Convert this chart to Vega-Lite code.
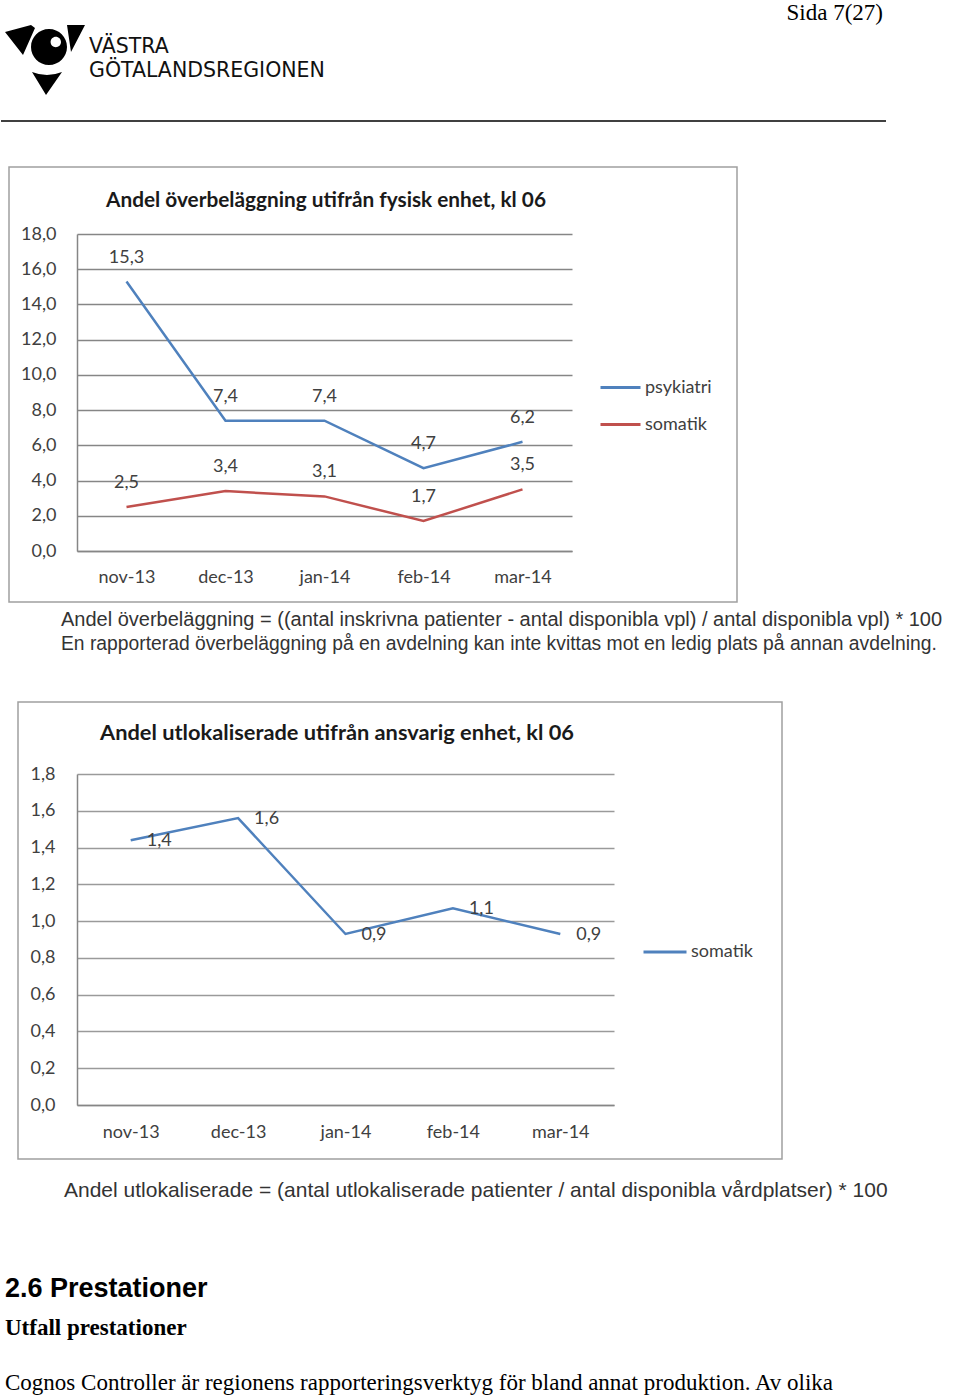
{
  "$schema": "https://vega.github.io/schema/vega-lite/v6.json",
  "background": "white",
  "padding": 0,
  "spacing": 0,
  "resolve": {"scale": {"color": "independent", "x": "independent", "y": "independent"}, "legend": {"color": "independent"}},
  "config": {
    "locale": {"number": {"decimal": ",", "thousands": " ", "grouping": [3], "currency": ["", " kr"]}},
    "view": {"stroke": null},
    "font": "Lato"
  },
  "datasets": {
    "overbel": [
      {"month": "nov-13", "serie": "psykiatri", "value": 15.3},
      {"month": "dec-13", "serie": "psykiatri", "value": 7.4},
      {"month": "jan-14", "serie": "psykiatri", "value": 7.4},
      {"month": "feb-14", "serie": "psykiatri", "value": 4.7},
      {"month": "mar-14", "serie": "psykiatri", "value": 6.2},
      {"month": "nov-13", "serie": "somatik", "value": 2.5},
      {"month": "dec-13", "serie": "somatik", "value": 3.4},
      {"month": "jan-14", "serie": "somatik", "value": 3.1},
      {"month": "feb-14", "serie": "somatik", "value": 1.7},
      {"month": "mar-14", "serie": "somatik", "value": 3.5}
    ],
    "utlok": [
      {"month": "nov-13", "serie": "somatik", "value": 1.44},
      {"month": "dec-13", "serie": "somatik", "value": 1.56},
      {"month": "jan-14", "serie": "somatik", "value": 0.93},
      {"month": "feb-14", "serie": "somatik", "value": 1.07},
      {"month": "mar-14", "serie": "somatik", "value": 0.93}
    ],
    "blank": [{"t": ""}]
  },
  "vconcat": [
    {
      "spacing": 0,
      "hconcat": [
        {
          "width": 88, "height": 120,
          "data": {"name": "blank"},
          "mark": {"type": "point", "shape": "M-1,-0.7 L-0.35,-0.875 L-0.25,-0.8 L-0.55,-0.125 Z M0.55,-0.875 L1,-0.875 L0.65,-0.2 Z M-0.325,0.3 Q0.05,0.45 0.425,0.3 L0.025,0.875 Z M0.55,-0.325 A0.45,0.45 0 1 0 -0.35,-0.325 A0.45,0.45 0 1 0 0.55,-0.325 Z M0.4,-0.45 A0.13,0.13 0 1 1 0.14,-0.45 A0.13,0.13 0 1 1 0.4,-0.45 Z", "size": 6400, "filled": true, "color": "#000000", "opacity": 1, "strokeWidth": 0}
        },
        {
          "width": 560, "height": 120,
          "data": {"name": "blank"},
          "title": {"text": "VÄSTRA", "subtitle": "GÖTALANDSREGIONEN", "anchor": "start", "frame": "group", "offset": -81.3, "font": "DejaVu Sans", "fontSize": 20.5, "fontWeight": "normal", "color": "#111111", "subtitleFont": "DejaVu Sans", "subtitleFontSize": 20.5, "subtitleFontWeight": "normal", "subtitleColor": "#111111", "subtitlePadding": 3.5},
          "mark": "text",
          "encoding": {"text": {"field": "t", "type": "nominal"}}
        },
        {
          "width": 237, "height": 120,
          "data": {"name": "blank"},
          "title": {"text": "Sida 7(27)", "anchor": "end", "frame": "group", "offset": -24.5, "dx": -3, "font": "Liberation Serif", "fontSize": 23, "fontWeight": "normal", "color": "#000000"},
          "mark": "text",
          "encoding": {"text": {"field": "t", "type": "nominal"}}
        }
      ]
    },
    {
      "width": 885, "height": 44.5,
      "data": {"name": "blank"},
      "mark": {"type": "rule", "color": "#000000", "strokeWidth": 1.5},
      "encoding": {"y": {"datum": 1, "type": "quantitative", "scale": {"domain": [0, 1]}, "axis": null}}
    },
    {
      "spacing": 0,
      "hconcat": [
        {
          "width": 6.25, "height": 435,
          "data": {"name": "blank"},
          "mark": "text",
          "encoding": {"text": {"field": "t", "type": "nominal"}}
        },
        {
          "width": 728, "height": 435,
          "view": {"stroke": "#a0a0a0", "strokeWidth": 1.5},
          "data": {"name": "overbel"},
          "title": {"text": "Andel överbeläggning utifrån fysisk enhet, kl 06", "anchor": "middle", "frame": "group", "offset": -44.9, "dx": -47, "font": "Lato", "fontSize": 20.8, "fontWeight": "bold", "color": "#1a1a1a"},
          "encoding": {
            "x": {"field": "month", "type": "ordinal",
              "scale": {"type": "point", "domain": ["nov-13", "dec-13", "jan-14", "feb-14", "mar-14"], "range": [68, 563], "padding": 0.5},
              "axis": {"orient": "bottom", "offset": -51, "title": null, "ticks": false, "labelPadding": 17, "labelAngle": 0, "labelFont": "Lato", "labelFontSize": 18, "labelColor": "#404040", "domainColor": "#868686", "domainWidth": 1.5, "grid": false}},
            "y": {"field": "value", "type": "quantitative",
              "scale": {"domain": [0, 18], "range": [384, 67], "nice": false, "zero": true},
              "axis": {"orient": "left", "offset": -68, "title": null, "values": [0, 2, 4, 6, 8, 10, 12, 14, 16, 18], "format": ".1f", "ticks": false, "labelPadding": 21, "labelFont": "Lato", "labelFontSize": 18, "labelColor": "#404040", "domainColor": "#868686", "domainWidth": 1.5, "grid": true, "gridColor": "#868686", "gridWidth": 1.5}},
            "color": {"field": "serie", "type": "nominal",
              "scale": {"domain": ["psykiatri", "somatik"], "range": ["#4F81BD", "#C0504D"]},
              "legend": {"orient": "none", "legendX": 598, "legendY": 199, "title": null, "labelFont": "Lato", "labelFontSize": 18, "labelColor": "#404040", "symbolType": "stroke", "symbolSize": 1600, "symbolStrokeWidth": 3, "labelOffset": 3, "rowPadding": 6, "padding": 0}}
          },
          "layer": [
            {"mark": {"type": "line", "strokeWidth": 2.5}},
            {"mark": {"type": "text", "dy": -24, "font": "Lato", "fontSize": 18, "baseline": "middle"},
             "encoding": {"text": {"field": "value", "type": "quantitative", "format": ".1f"}, "color": {"value": "#404040"}}}
          ]
        }
      ]
    },
    {
      "width": 960, "height": 98,
      "data": {"name": "blank"},
      "title": {"text": "Andel överbeläggning = ((antal inskrivna patienter - antal disponibla vpl)  /  antal disponibla vpl) * 100", "subtitle": "En rapporterad överbeläggning på en avdelning kan inte kvittas mot en ledig plats på annan avdelning.", "anchor": "start", "frame": "group", "offset": -51.75, "dx": 60, "font": "Liberation Sans", "fontSize": 20, "fontWeight": "normal", "color": "#333333", "subtitleFont": "Liberation Sans", "subtitleFontSize": 19.3, "subtitleFontWeight": "normal", "subtitleColor": "#333333", "subtitlePadding": 5.3},
      "mark": "text",
      "encoding": {"text": {"field": "t", "type": "nominal"}}
    },
    {
      "spacing": 0,
      "hconcat": [
        {
          "width": 15.25, "height": 457,
          "data": {"name": "blank"},
          "mark": "text",
          "encoding": {"text": {"field": "t", "type": "nominal"}}
        },
        {
          "width": 764, "height": 457,
          "view": {"stroke": "#a0a0a0", "strokeWidth": 1.5},
          "data": {"name": "utlok"},
          "title": {"text": "Andel utlokaliserade utifrån ansvarig enhet, kl 06", "anchor": "middle", "frame": "group", "offset": -42.4, "dx": -63, "font": "Lato", "fontSize": 21.8, "fontWeight": "bold", "color": "#1a1a1a"},
          "encoding": {
            "x": {"field": "month", "type": "ordinal",
              "scale": {"type": "point", "domain": ["nov-13", "dec-13", "jan-14", "feb-14", "mar-14"], "range": [59, 596], "padding": 0.5},
              "axis": {"orient": "bottom", "offset": -54, "title": null, "ticks": false, "labelPadding": 18, "labelAngle": 0, "labelFont": "Lato", "labelFontSize": 18, "labelColor": "#404040", "domainColor": "#868686", "domainWidth": 1.5, "grid": false}},
            "y": {"field": "value", "type": "quantitative",
              "scale": {"domain": [0, 1.8], "range": [403, 72], "nice": false, "zero": true},
              "axis": {"orient": "left", "offset": -59, "title": null, "values": [0, 0.2, 0.4, 0.6, 0.8, 1.0, 1.2, 1.4, 1.6, 1.8], "format": ".1f", "ticks": false, "labelPadding": 22, "labelFont": "Lato", "labelFontSize": 18, "labelColor": "#404040", "domainColor": "#868686", "domainWidth": 1.5, "grid": true, "gridColor": "#9a9a9a", "gridWidth": 1.5}},
            "color": {"field": "serie", "type": "nominal",
              "scale": {"domain": ["somatik"], "range": ["#4F81BD"]},
              "legend": {"orient": "none", "legendX": 641, "legendY": 227, "title": null, "labelFont": "Lato", "labelFontSize": 18, "labelColor": "#404040", "symbolType": "stroke", "symbolSize": 1849, "symbolStrokeWidth": 3, "labelOffset": 3, "rowPadding": 0, "padding": 0}}
          },
          "layer": [
            {"mark": {"type": "line", "strokeWidth": 2.5}},
            {"mark": {"type": "text", "dx": 16, "dy": 1, "align": "left", "font": "Lato", "fontSize": 18, "baseline": "middle"},
             "encoding": {"text": {"field": "value", "type": "quantitative", "format": ".1f"}, "color": {"value": "#404040"}}}
          ]
        }
      ]
    },
    {
      "width": 960, "height": 80,
      "data": {"name": "blank"},
      "title": {"text": "Andel utlokaliserade = (antal utlokaliserade patienter /  antal disponibla vårdplatser) * 100", "anchor": "start", "frame": "group", "offset": -40.5, "dx": 63, "font": "Liberation Sans", "fontSize": 21, "fontWeight": "normal", "color": "#333333"},
      "mark": "text",
      "encoding": {"text": {"field": "t", "type": "nominal"}}
    },
    {
      "width": 960, "height": 100,
      "data": {"name": "blank"},
      "title": {"text": "2.6 Prestationer", "subtitle": "Utfall prestationer", "anchor": "start", "frame": "group", "offset": -101, "dx": 4, "font": "Liberation Sans", "fontSize": 27, "fontWeight": "bold", "color": "#000000", "subtitleFont": "Liberation Serif", "subtitleFontSize": 23, "subtitleFontWeight": "bold", "subtitleColor": "#000000", "subtitlePadding": 14},
      "mark": "text",
      "encoding": {"text": {"field": "t", "type": "nominal"}}
    },
    {
      "width": 960, "height": 55,
      "data": {"name": "blank"},
      "title": {"text": "Cognos Controller är regionens rapporteringsverktyg för bland annat produktion. Av olika", "anchor": "start", "frame": "group", "offset": -54.5, "dx": 4, "font": "Liberation Serif", "fontSize": 23, "fontWeight": "normal", "color": "#000000"},
      "mark": "text",
      "encoding": {"text": {"field": "t", "type": "nominal"}}
    }
  ]
}
